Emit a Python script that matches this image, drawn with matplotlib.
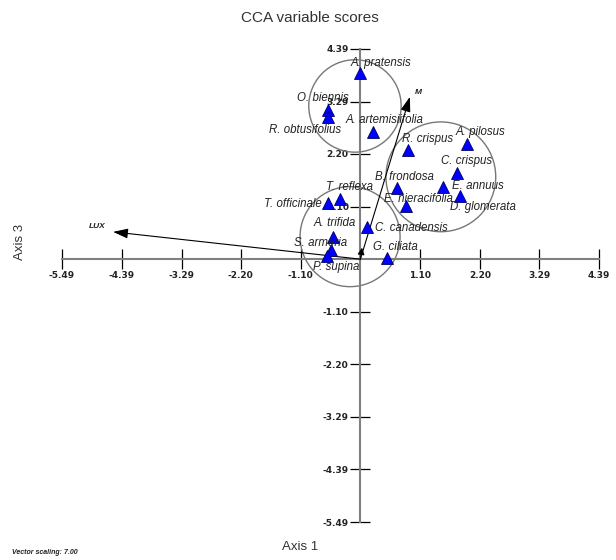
import matplotlib
matplotlib.use('Agg')
import matplotlib.pyplot as plt
from matplotlib.patches import Ellipse

# species scores (axis 1, axis 3)
species = ['A. pratensis', 'O. biennis', 'R. obtusifolius', 'A. artemisiifolia',
           'R. crispus', 'A. pilosus', 'C. crispus', 'B. frondosa', 'E. annuus',
           'D. glomerata', 'E. hieracifolia', 'T. reflexa', 'T. officinale',
           'A. trifida', 'C. canadensis', 'S. armeria', 'P. supina', 'G. ciliata']
axis1 = [0.00, -0.59, -0.59, 0.23, 0.88, 1.96, 1.78, 0.67, 1.52,
         1.83, 0.84, -0.37, -0.59, -0.50, 0.12, -0.54, -0.61, 0.49]
axis3 = [3.89, 3.12, 2.97, 2.66, 2.28, 2.41, 1.81, 1.49, 1.51,
         1.32, 1.11, 1.26, 1.18, 0.47, 0.67, 0.19, 0.07, 0.03]

# environmental vectors
vec_names = ['LUX', 'M']
vec_x = [-4.55, 0.91]
vec_y = [0.57, 3.39]
short_vec_x = [0.03]
short_vec_y = [0.24]

# group circles (centre, radius in axis-1 units)
circle_x = [-0.10, 1.48, -0.19]
circle_y = [3.20, 1.72, 0.47]
circle_r = [0.85, 1.01, 0.92]

tick_vals = [-5.49, -4.39, -3.29, -2.20, -1.10, 1.10, 2.20, 3.29, 4.39]
tick_labels = ['-5.49', '-4.39', '-3.29', '-2.20', '-1.10', '1.10', '2.20', '3.29', '4.39']

# label offsets in pixels from each triangle
label_dx = [21, -5, -23, 12, 19, 14, 9, 8, 35, 23, 12, 9, -7, 1, 8, -10, 9, 8]
label_dy = [10, 12, -13, 12, 11, 12, 12, 11, 1, -11, 7, 12, -1, 14, -1, 7, -11, 11]
label_ha = ['center'] * 12 + ['right', 'center', 'left', 'center', 'center', 'center']
vec_dx = [-16, 9]
vec_dy = [5, 4]

LIM = (-5.49, 4.39)

fig = plt.figure(figsize=(6.16, 5.6), dpi=100)
ax = fig.add_axes([62 / 616, 38 / 560, 537 / 616, 473 / 560])
ax.set_xlim(*LIM)
ax.set_ylim(*LIM)

for s in ['top', 'right']:
    ax.spines[s].set_visible(False)
for s in ['left', 'bottom']:
    ax.spines[s].set_position(('data', 0))
    ax.spines[s].set_color('#808080')
    ax.spines[s].set_linewidth(1.5)

ax.set_xticks(tick_vals, tick_labels)
ax.set_yticks(tick_vals, tick_labels)
ax.tick_params(direction='inout', length=15, width=0.9, color='black',
               labelsize=6.5, pad=1)
for lab in ax.get_xticklabels() + ax.get_yticklabels():
    lab.set_family('DejaVu Sans')
    lab.set_fontweight('bold')
    lab.set_color('#222222')

# circles are round in pixels, so stretch the height
aspect = (537 / 473)
for cx, cy, r in zip(circle_x, circle_y, circle_r):
    ax.add_patch(Ellipse((cx, cy), 2 * r, 2 * r * aspect, fill=False,
                         edgecolor='#777777', linewidth=1.0, zorder=2))

# vectors
for name, vx, vy, dx, dy in zip(vec_names, vec_x, vec_y, vec_dx, vec_dy):
    ax.annotate('', xy=(vx, vy), xytext=(0, 0),
                arrowprops=dict(arrowstyle='-|>,head_length=0.9,head_width=0.3',
                                color='black', lw=0.8, shrinkA=0, shrinkB=0,
                                mutation_scale=10), zorder=3)
    ax.annotate(name, (vx, vy), xytext=(dx, dy), textcoords='offset pixels',
                ha='center', va='center', fontsize=6, fontweight='bold',
                style='italic', family='Liberation Sans', color='#222222')
for vx, vy in zip(short_vec_x, short_vec_y):
    ax.annotate('', xy=(vx, vy), xytext=(0, 0),
                arrowprops=dict(arrowstyle='-|>,head_length=0.5,head_width=0.25',
                                color='black', lw=0.8, shrinkA=0, shrinkB=0,
                                mutation_scale=8), zorder=3)

# species triangles
ax.plot(axis1, axis3, '^', ms=9, mfc='#0000ff', mec='#000066', mew=0.6,
        linestyle='none', zorder=4)
for name, x, y, dx, dy, ha in zip(species, axis1, axis3, label_dx, label_dy, label_ha):
    ax.annotate(name, (x, y), xytext=(dx, dy), textcoords='offset pixels',
                ha=ha, va='center', fontsize=8.3, style='italic',
                family='Liberation Sans', color='#222222', zorder=5)

fig.text(310 / 616, 1 - 18 / 560, 'CCA variable scores', ha='center', va='center',
         fontsize=11, family='Liberation Sans', color='#333333')
fig.text(300 / 616, 1 - 547 / 560, 'Axis 1', ha='center', va='center',
         fontsize=9.5, family='Liberation Sans', color='#333333')
fig.text(20 / 616, 1 - 242 / 560, 'Axis 3', ha='center', va='center', rotation=90,
         fontsize=9.5, family='Liberation Sans', color='#333333')
fig.text(12 / 616, 1 - 552 / 560, 'Vector scaling: 7.00', ha='left', va='center',
         fontsize=5, fontweight='bold', style='italic', family='Liberation Sans',
         color='#222222')

fig.savefig('out.png', dpi=100)
